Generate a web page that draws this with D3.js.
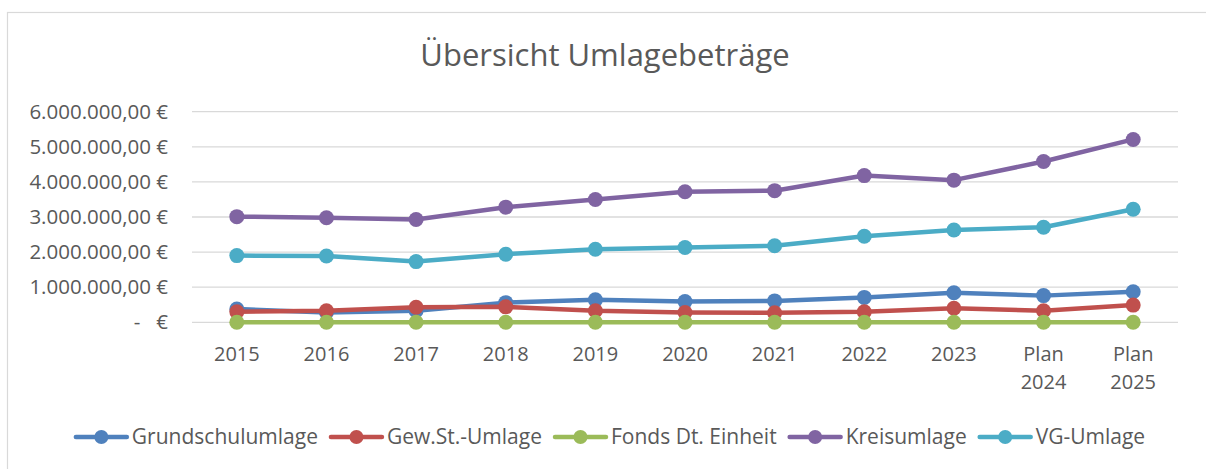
<!DOCTYPE html>
<html>
<head>
<meta charset="utf-8">
<script src="https://cdn.jsdelivr.net/npm/d3@7"></script>
<style>
  body { margin: 0; background: #fff; }
  svg text { font-family: "Open Sans", Lato, sans-serif; fill: #595959; }
</style>
</head>
<body>
<div id="chart"></div>
<script>
// categories on the x axis (two-line labels split by \n)
const years = ["2015", "2016", "2017", "2018", "2019", "2020", "2021", "2022", "2023", "Plan\n2024", "Plan\n2025"];

// values, in euro
const grundschulumlage = [380000, 280000, 330000, 560000, 640000, 590000, 610000, 710000, 840000, 760000, 870000];
const gewStUmlage = [300000, 330000, 430000, 440000, 330000, 280000, 270000, 300000, 400000, 330000, 490000];
const fondsDtEinheit = [0, 0, 0, 0, 0, 0, 0, 0, 0, 0, 0];
const kreisumlage = [3010000, 2980000, 2930000, 3280000, 3500000, 3720000, 3750000, 4180000, 4050000, 4580000, 5210000];
const vgUmlage = [1900000, 1890000, 1730000, 1940000, 2080000, 2130000, 2180000, 2450000, 2630000, 2710000, 3220000];

const yTicks = [0, 1000000, 2000000, 3000000, 4000000, 5000000, 6000000];

const series = [
  { name: "Grundschulumlage", values: grundschulumlage, color: "#4F81BD" },
  { name: "Gew.St.-Umlage", values: gewStUmlage, color: "#C0504D" },
  { name: "Fonds Dt. Einheit", values: fondsDtEinheit, color: "#9BBB59" },
  { name: "Kreisumlage", values: kreisumlage, color: "#8064A2" },
  { name: "VG-Umlage", values: vgUmlage, color: "#4BACC6" }
];

const width = 1206, height = 469;
const plot = { left: 192, right: 1178, top: 111.7, bottom: 322.3 };
const labelSize = "20px";

const svg = d3.select("#chart").append("svg")
  .attr("width", width)
  .attr("height", height);

// chart frame (only top and left edges are in view)
svg.append("rect")
  .attr("x", 7.5).attr("y", 12.5)
  .attr("width", width + 10).attr("height", height + 10)
  .attr("fill", "#fff")
  .attr("stroke", "#d9d9d9")
  .attr("stroke-width", 1.2);

svg.append("text")
  .attr("x", 605).attr("y", 66)
  .attr("text-anchor", "middle")
  .style("font-size", "31px")
  .text("Übersicht Umlagebeträge");

const x = d3.scaleBand()
  .domain(years)
  .range([plot.left, plot.right]);

const y = d3.scaleLinear()
  .domain([0, 6000000])
  .range([plot.bottom, plot.top]);

// German accounting style: 1.000.000,00 €
const fmt = d3.formatLocale({ decimal: ",", thousands: ".", grouping: [3], currency: ["", " €"] }).format(",.2f");
function euro(v) {
  return v === 0 ? "-   €" : fmt(v) + " €";
}

// gridlines
svg.append("g")
  .selectAll("line")
  .data(yTicks)
  .join("line")
  .attr("x1", plot.left).attr("x2", plot.right)
  .attr("y1", d => y(d)).attr("y2", d => y(d))
  .attr("stroke", "#d9d9d9")
  .attr("stroke-width", 1.3);

// y axis labels
const yAxis = d3.axisLeft(y).tickValues(yTicks).tickFormat(euro).tickSize(0).tickPadding(24);
const yg = svg.append("g")
  .attr("transform", `translate(${plot.left},0)`)
  .call(yAxis);
yg.select(".domain").remove();
yg.selectAll("text")
  .style("font-size", "20.5px")
  .style("white-space", "pre")
  .attr("fill", "#595959");

// x axis labels
const xAxis = d3.axisBottom(x).tickSize(0).tickFormat("");
const xg = svg.append("g")
  .attr("transform", `translate(0,${plot.bottom})`)
  .call(xAxis);
xg.select(".domain").remove();
xg.selectAll(".tick").append("text")
  .attr("text-anchor", "middle")
  .style("font-size", labelSize)
  .selectAll("tspan")
  .data(d => d.split("\n"))
  .join("tspan")
  .attr("x", 0)
  .attr("y", (d, i) => 39 + i * 28)
  .text(d => d);

// lines and markers
const line = d3.line()
  .x((d, i) => x(years[i]) + x.bandwidth() / 2)
  .y(d => y(d));

series.forEach(s => {
  const g = svg.append("g");
  g.append("path")
    .datum(s.values)
    .attr("d", line)
    .attr("fill", "none")
    .attr("stroke", s.color)
    .attr("stroke-width", 4.5)
    .attr("stroke-linejoin", "round")
    .attr("stroke-linecap", "round");
  g.selectAll("circle")
    .data(s.values)
    .join("circle")
    .attr("cx", (d, i) => x(years[i]) + x.bandwidth() / 2)
    .attr("cy", d => y(d))
    .attr("r", 7.5)
    .attr("fill", s.color);
});

// legend
const legend = svg.append("g");
let lx = 0;
series.forEach(s => {
  const item = legend.append("g").attr("transform", `translate(${lx},0)`);
  item.append("line")
    .attr("x1", 2).attr("x2", 53)
    .attr("y1", 0).attr("y2", 0)
    .attr("stroke", s.color)
    .attr("stroke-width", 4.5)
    .attr("stroke-linecap", "round");
  item.append("circle")
    .attr("cx", 27.5).attr("cy", 0).attr("r", 7)
    .attr("fill", s.color);
  const t = item.append("text")
    .attr("x", 58).attr("y", 7)
    .style("font-size", "21px")
    .text(s.name);
  lx += 58 + t.node().getComputedTextLength() + 11;
});
legend.attr("transform", `translate(${609.5 - (lx - 11) / 2},437)`);
</script>
</body>
</html>
